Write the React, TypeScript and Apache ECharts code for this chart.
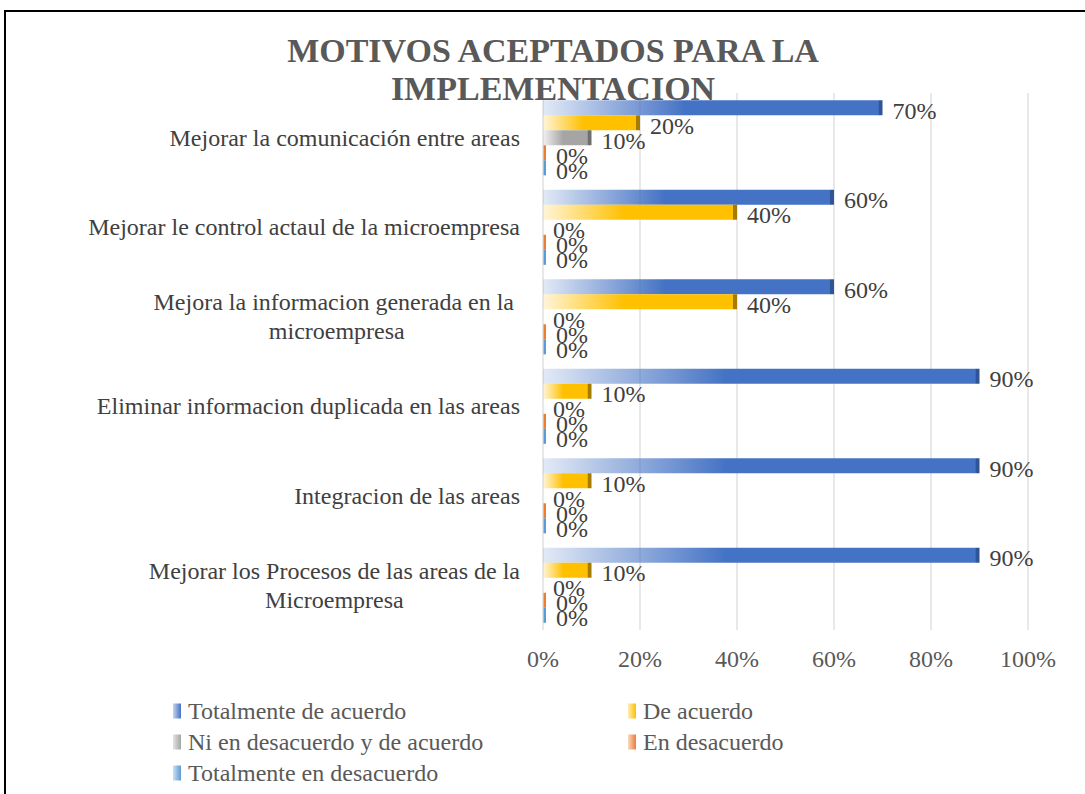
import React, { useEffect, useRef } from "react";
import * as echarts from "echarts";

const categories = [
  "Mejorar la comunicación entre areas",
  "Mejorar le control actaul de la microempresa",
  "Mejora la informacion generada en la \nmicroempresa",
  "Eliminar informacion duplicada en las areas",
  "Integracion de las areas",
  "Mejorar los Procesos de las areas de la\nMicroempresa",
];

const seriesNames = [
  "Totalmente de acuerdo",
  "De acuerdo",
  "Ni en desacuerdo y de acuerdo",
  "En desacuerdo",
  "Totalmente en desacuerdo",
];

const totalmenteDeAcuerdo = [0.7, 0.6, 0.6, 0.9, 0.9, 0.9];
const deAcuerdo = [0.2, 0.4, 0.4, 0.1, 0.1, 0.1];
const niEnDesacuerdo = [0.1, 0, 0, 0, 0, 0];
const enDesacuerdo = [0, 0, 0, 0, 0, 0];
const totalmenteEnDesacuerdo = [0, 0, 0, 0, 0, 0];

const colors = ["#4472C4", "#FFC000", "#A5A5A5", "#ED7D31", "#5B9BD5"];
const darkColors = ["#2F5597", "#A67C00", "#6E6E6E", "#C55A11", "#2E75B6"];

function hexToRgba(hex: string, a: number) {
  const r = parseInt(hex.slice(1, 3), 16);
  const g = parseInt(hex.slice(3, 5), 16);
  const b = parseInt(hex.slice(5, 7), 16);
  return `rgba(${r},${g},${b},${a})`;
}

// plot width in px used only to size the dark 3D end cap of each bar
const PLOT_W = 485;

function grad(i: number, v: number) {
  const len = Math.max(v * PLOT_W, 1);
  const cap = v > 0 ? Math.min(4 / len, 0.5) : 0;
  const stops: any[] = [
    { offset: 0, color: hexToRgba(colors[i], 0.15) },
    { offset: 0.42, color: colors[i] },
  ];
  if (cap > 0) {
    stops.push({ offset: 1 - cap, color: colors[i] });
    stops.push({ offset: 1 - cap + 0.0001, color: darkColors[i] });
    stops.push({ offset: 1, color: darkColors[i] });
  } else {
    stops.push({ offset: 1, color: colors[i] });
  }
  return new echarts.graphic.LinearGradient(0, 0, 1, 0, stops);
}

function legendGrad(i: number) {
  return new echarts.graphic.LinearGradient(0, 0, 1, 0, [
    { offset: 0, color: hexToRgba(colors[i], 0.3) },
    { offset: 1, color: colors[i] },
  ]);
}

export default function App() {
  const ref = useRef<HTMLDivElement>(null);
  useEffect(() => {
    if (!ref.current) return;
    const chart = echarts.init(ref.current, null, { renderer: "svg" });
    const font = "Liberation Serif";
    const allData = [
      totalmenteDeAcuerdo,
      deAcuerdo,
      niEnDesacuerdo,
      enDesacuerdo,
      totalmenteEnDesacuerdo,
    ];
    const series = allData.map((vals, i) => ({
      name: seriesNames[i],
      type: "bar",
      data: vals.map((v) => ({
        value: v,
        itemStyle: { color: grad(i, v) },
      })),
      barGap: "0%",
      barCategoryGap: "16%",
      barMinHeight: i >= 3 ? 3 : 0,
      itemStyle: { color: legendGrad(i) },
      label: {
        show: true,
        position: "right",
        distance: 10,
        offset: [0, 3],
        formatter: (p: any) => Math.round(p.value * 100) + "%",
        fontFamily: font,
        fontSize: 24,
        color: "#404040",
      },
    }));
    const legendText = {
      fontFamily: font,
      fontSize: 24,
      color: "#595959",
      padding: [0, 0, 0, 2],
    };
    const legendBase = {
      orient: "vertical",
      top: 699,
      height: 95,
      padding: 0,
      itemGap: 7,
      itemWidth: 8,
      itemHeight: 15,
      icon: "rect",
      textStyle: legendText,
    };
    chart.setOption({
      animation: false,
      backgroundColor: "#ffffff",
      title: {
        text: "MOTIVOS ACEPTADOS PARA LA\nIMPLEMENTACION",
        left: 548,
        top: 26,
        textAlign: "center",
        textStyle: {
          fontFamily: font,
          fontSize: 34,
          fontWeight: "bold",
          color: "#595959",
          lineHeight: 38,
        },
      },
      grid: { left: 543, right: 57, top: 93, bottom: 164 },
      xAxis: {
        type: "value",
        min: 0,
        max: 1,
        interval: 0.2,
        axisLine: { show: false },
        axisTick: { show: false },
        splitLine: { show: true, lineStyle: { color: "#E8E8E8", width: 2 } },
        axisLabel: {
          formatter: (v: number) => Math.round(v * 100) + "%",
          fontFamily: font,
          fontSize: 24,
          color: "#595959",
          margin: 17,
        },
      },
      yAxis: {
        type: "category",
        data: categories,
        inverse: true,
        axisLine: { show: false },
        axisTick: { show: false },
        axisLabel: {
          margin: 23,
          fontFamily: font,
          fontSize: 24,
          color: "#404040",
          lineHeight: 29,
          formatter: (v: string) =>
            v
              .split("\n")
              .map((l) => "{c|" + l + "}")
              .join("\n"),
          rich: {
            c: {
              align: "center",
              fontFamily: font,
              fontSize: 24,
              color: "#404040",
              lineHeight: 29,
            },
          },
        },
      },
      legend: [
        {
          ...legendBase,
          left: 173,
          data: [seriesNames[0], seriesNames[2], seriesNames[4]],
        },
        {
          ...legendBase,
          left: 628,
          data: [seriesNames[1], seriesNames[3]],
        },
      ],
      graphic: [
        {
          type: "rect",
          shape: { x: 5, y: 11, width: 1200, height: 900 },
          style: { fill: "none", stroke: "#000", lineWidth: 2 },
          silent: true,
        },
      ],
      series,
    });
    return () => chart.dispose();
  }, []);
  return (
    <div
      ref={ref}
      style={{ position: "absolute", left: 0, top: 0, width: 1085, height: 794 }}
    />
  );
}
